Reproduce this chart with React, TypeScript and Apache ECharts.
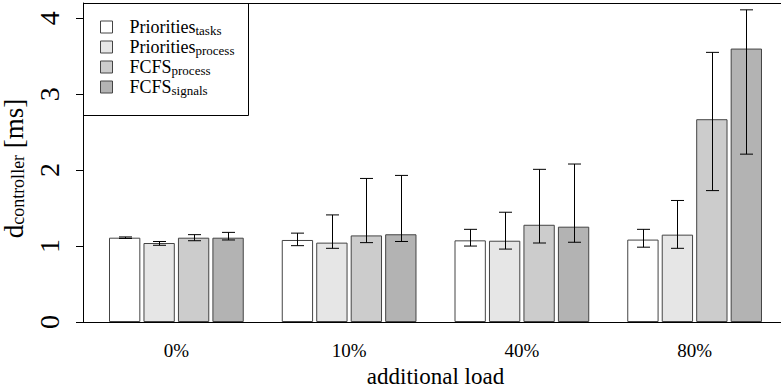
import React, { useEffect, useRef } from "react";
import * as echarts from "echarts";

const categories = ["0%", "10%", "40%", "80%"];
const seriesMain = ["Priorities", "Priorities", "FCFS", "FCFS"];
const seriesSub = ["tasks", "process", "process", "signals"];
const seriesColors = ["#ffffff", "#e6e6e6", "#cccccc", "#b3b3b3"];

const meanTasks = [1.11, 1.08, 1.075, 1.085];
const meanPrioProcess = [1.04, 1.045, 1.07, 1.15];
const meanFcfsProcess = [1.11, 1.14, 1.28, 2.67];
const meanFcfsSignals = [1.11, 1.155, 1.255, 3.6];

const lowTasks = [1.1, 1.005, 1.0, 0.985];
const lowPrioProcess = [1.01, 0.97, 0.96, 0.97];
const lowFcfsProcess = [1.07, 1.045, 1.04, 1.73];
const lowFcfsSignals = [1.08, 1.06, 1.05, 2.21];

const highTasks = [1.12, 1.17, 1.22, 1.22];
const highPrioProcess = [1.06, 1.41, 1.445, 1.6];
const highFcfsProcess = [1.15, 1.89, 2.01, 3.55];
const highFcfsSignals = [1.18, 1.93, 2.08, 4.11];

const yTicks = [0, 1, 2, 3, 4];

const FONT = "Liberation Serif";
const BAR_CAT_GAP = 0.22;
const BAR_GAP = 0.1;

export default function App() {
  const ref = useRef<HTMLDivElement>(null);
  useEffect(() => {
    if (!ref.current) return;
    document.body.style.margin = "0";
    const chart = echarts.init(ref.current, undefined, { renderer: "svg" });
    const means = [meanTasks, meanPrioProcess, meanFcfsProcess, meanFcfsSignals];
    const lows = [lowTasks, lowPrioProcess, lowFcfsProcess, lowFcfsSignals];
    const highs = [highTasks, highPrioProcess, highFcfsProcess, highFcfsSignals];
    const names = seriesMain.map((m, i) => m + "_" + seriesSub[i]);
    const n = names.length;

    const errData: number[][] = [];
    for (let s = 0; s < n; s++) {
      for (let c = 0; c < categories.length; c++) {
        errData.push([c, s, lows[s][c], highs[s][c]]);
      }
    }

    const barSeries = names.map((name, i) => ({
      name,
      type: "bar",
      data: means[i],
      barCategoryGap: BAR_CAT_GAP * 100 + "%",
      barGap: BAR_GAP * 100 + "%",
      itemStyle: { color: seriesColors[i], borderColor: "#444", borderWidth: 1 },
      emphasis: { disabled: true },
    }));

    const option: any = {
      animation: false,
      grid: { left: 90, right: 0, top: 3, bottom: 66, containLabel: false, outerBoundsMode: "none" },
      legend: {
        orient: "vertical",
        left: 100,
        top: 18,
        padding: 0,
        itemWidth: 12,
        itemHeight: 12,
        itemGap: 1,
        icon: "rect",
        data: names,
        itemStyle: { borderColor: "#444", borderWidth: 1 },
        formatter: (name: string) => {
          const i = names.indexOf(name);
          return `{m|${seriesMain[i]}}{s|${seriesSub[i]}}`;
        },
        textStyle: {
          color: "#000",
          fontFamily: FONT,
          fontSize: 18,
          padding: [0, 0, 0, 12],
          rich: {
            m: { fontFamily: FONT, fontSize: 18, lineHeight: 20, color: "#000" },
            s: { fontFamily: FONT, fontSize: 13, lineHeight: 12, verticalAlign: "bottom", color: "#000" },
          },
        },
      },
      xAxis: {
        type: "category",
        data: categories,
        axisLine: { show: true, lineStyle: { color: "#000", width: 1 } },
        axisTick: { show: false },
        axisLabel: { color: "#000", fontFamily: FONT, fontSize: 19, margin: 19 },
        name: "additional load",
        nameLocation: "middle",
        nameGap: 36,
        nameTextStyle: { color: "#000", fontFamily: FONT, fontSize: 23, lineHeight: 23 },
        splitLine: { show: false },
      },
      yAxis: {
        type: "value",
        min: 0,
        max: 4.2,
        interval: 1,
        offset: 7,
        axisLine: { show: true, lineStyle: { color: "#000", width: 1 } },
        axisTick: { show: true, length: 7, lineStyle: { color: "#000" }, customValues: yTicks },
        axisLabel: {
          rotate: 90,
          color: "#000",
          fontFamily: FONT,
          fontSize: 28,
          margin: 20,
          customValues: yTicks,
        },
        splitLine: { show: false },
        name: "{d|d}{s|controller}{d| [ms]}",
        nameLocation: "middle",
        nameRotate: 90,
        nameGap: 52,
        nameTextStyle: {
          color: "#000",
          fontFamily: FONT,
          padding: [0, 12, 0, 0],
          rich: {
            d: { fontFamily: FONT, fontSize: 27, lineHeight: 26, color: "#000" },
            s: { fontFamily: FONT, fontSize: 18, lineHeight: 12, verticalAlign: "bottom", color: "#000" },
          },
        },
      },
      graphic: [
        {
          type: "rect",
          z: 0,
          shape: { x: 83.5, y: 3.5, width: 165, height: 112 },
          style: { fill: "#fff", stroke: "#000", lineWidth: 1 },
        },
        {
          type: "line",
          shape: { x1: 83, y1: 3.5, x2: 781, y2: 3.5 },
          style: { stroke: "#000", lineWidth: 1 },
        },
        {
          type: "line",
          shape: { x1: 83, y1: 322.5, x2: 91, y2: 322.5 },
          style: { stroke: "#000", lineWidth: 1 },
        },
      ],
      series: [
        ...barSeries,
        {
          type: "custom",
          name: "err",
          z: 5,
          data: errData,
          encode: { x: 0, y: [2, 3] },
          renderItem: (params: any, api: any) => {
            const c = api.value(0);
            const s = api.value(1);
            const lo = api.coord([c, api.value(2)]);
            const hi = api.coord([c, api.value(3)]);
            const band = api.size([1, 0])[0];
            const usable = band * (1 - BAR_CAT_GAP);
            const bw = usable / (n + (n - 1) * BAR_GAP);
            const gap = bw * BAR_GAP;
            const x = Math.round(lo[0] - usable / 2 + s * (bw + gap) + bw / 2) + 0.5;
            const cap = 6.5;
            const st = { stroke: "#000", lineWidth: 1 };
            return {
              type: "group",
              children: [
                { type: "line", shape: { x1: x, y1: lo[1], x2: x, y2: hi[1] }, style: st },
                { type: "line", shape: { x1: x - cap, y1: lo[1], x2: x + cap, y2: lo[1] }, style: st },
                { type: "line", shape: { x1: x - cap, y1: hi[1], x2: x + cap, y2: hi[1] }, style: st },
              ],
            };
          },
        },
      ],
    };
    chart.setOption(option);
    return () => chart.dispose();
  }, []);
  return <div ref={ref} style={{ width: 781, height: 388 }} />;
}
